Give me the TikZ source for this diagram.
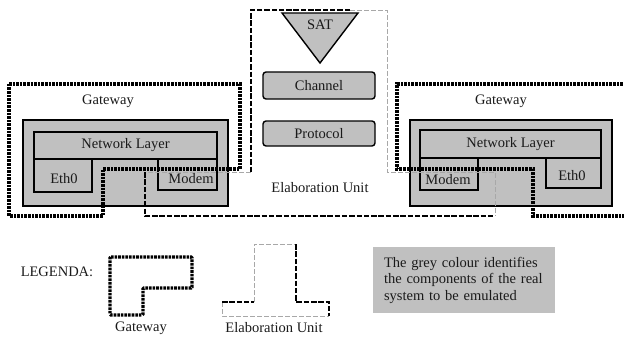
\documentclass[tikz,border=0pt]{standalone}
\usepackage{fontspec}
\setmainfont{Liberation Serif}
\definecolor{boxgrey}{HTML}{C0C0C0}
\definecolor{txt}{HTML}{1A1A1A}
\definecolor{lightline}{HTML}{A8A8A8}
\begin{document}
\begin{tikzpicture}[x=1pt,y=-1pt,
  font=\fontsize{14.5}{16.5}\selectfont, text=txt,
  greybox/.style={draw=black, line width=1.4pt, fill=boxgrey, inner sep=0pt},
  subbox/.style={draw=black, line width=1.6pt, fill=boxgrey, inner sep=0pt},
  roundbox/.style={draw=black, line width=1.4pt, fill=boxgrey, rounded corners=3pt, inner sep=0pt},
  lbl/.style={inner sep=0pt},
  gwline/.style={line width=3.2pt, dash pattern=on 2.6pt off 1pt, black},
  eublack/.style={line width=2.4pt, dash pattern=on 5.5pt off 1.8pt, black},
  eugrey/.style={line width=0.8pt, dash pattern=on 5pt off 2pt, lightline}]
\useasboundingbox (0,0) rectangle (624,337);
\clip (0,0) rectangle (624,337);

% ---- left gateway boxes
\node[greybox, minimum width=205pt, minimum height=86pt] (outL) at (125.5,163) {};
\node[subbox, minimum width=183pt, minimum height=27pt] (nlL) at (125.5,145.5) {Network Layer};
\node[subbox, minimum width=58pt, minimum height=33pt] (ethL) at (63,175.5) {};
\node[subbox, minimum width=59pt, minimum height=31pt] (modL) at (187.5,174.5) {};
\node[lbl] (ethLt) at (64,178.5) {Eth0};
\node[lbl] (modLt) at (191,178.5) {Modem};
\node[lbl] (gwL) at (108,101) {Gateway};

% ---- right gateway boxes
\node[greybox, minimum width=202pt, minimum height=86pt] (outR) at (511,163) {};
\node[subbox, minimum width=181pt, minimum height=28pt] (nlR) at (510.5,144) {Network Layer};
\node[subbox, minimum width=58pt, minimum height=32pt] (modR) at (449,174) {};
\node[subbox, minimum width=55pt, minimum height=30pt] (ethR) at (573.5,173) {};
\node[lbl] (modRt) at (448,179.5) {Modem};
\node[lbl] (ethRt) at (572,176) {Eth0};
\node[lbl] (gwR) at (501,101) {Gateway};

% ---- elaboration unit contents
\draw[fill=boxgrey, line width=1.4pt, line join=miter] (282,13) -- (358,13) -- (320,63) -- cycle;
\node[lbl] (sat) at (320,25) {SAT};
\node[roundbox, minimum width=112pt, minimum height=27pt] (chan) at (319,85.5) {Channel};
\node[roundbox, minimum width=112pt, minimum height=25pt] (prot) at (319,133.5) {Protocol};
\node[lbl] (eulbl) at (320,188) {Elaboration Unit};

% ---- gateway outlines
\draw[gwline] (9,84) -- (240,84) -- (240,169) -- (103,169) -- (103,216) -- (9,216) -- cycle;
\draw[gwline] (630,84) -- (397,84) -- (397,169) -- (533,169) -- (533,216) -- (630,216);

% ---- elaboration unit outline
\draw[eugrey] (350,10) -- (387,10) -- (387,172) -- (495,172) -- (495,216);
\draw[eugrey] (251,172) -- (145,172);
\draw[eublack] (350,10) -- (251,10) -- (251,172);
\draw[eublack] (145,172) -- (145,216) -- (495,216);

% ---- legend
\node[lbl] (legenda) at (57,272) {LEGENDA:};
\draw[gwline, rounded corners=1pt] (110,257) -- (192,257) -- (192,288) -- (143,288) -- (143,315) -- (110,315) -- cycle;
\node[lbl] (lgw) at (141,328) {Gateway};

\draw[eugrey] (254,302) -- (254,244) -- (296,244);
\draw[eugrey] (222,302) -- (222,316) -- (329,316);
\draw[eublack] (296,244) -- (296,302) -- (329,302) -- (329,316);
\draw[eublack] (222,302) -- (254,302);
\node[lbl] (leu) at (274,328) {Elaboration Unit};

\node[fill=boxgrey, text width=160pt, align=left, inner xsep=11pt, minimum height=66pt] (note) at (464,280)
  {The grey colour identifies\\the components of the real\\system to be emulated};
\end{tikzpicture}
\end{document}
